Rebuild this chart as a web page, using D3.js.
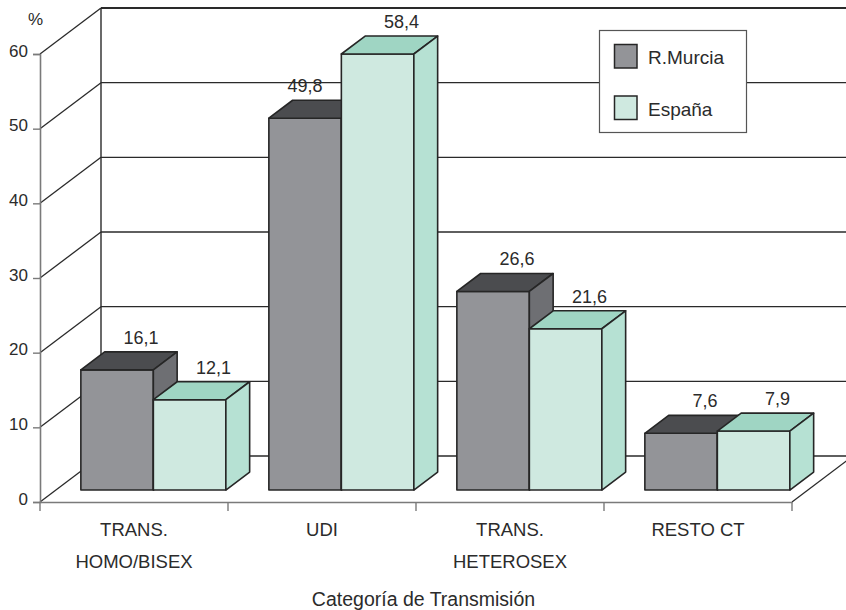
<!DOCTYPE html>
<html>
<head>
<meta charset="utf-8">
<script src="https://cdn.jsdelivr.net/npm/d3@7"></script>
<style>
  html, body { margin: 0; padding: 0; background: #fff; }
  svg { display: block; }
  text { font-family: "Liberation Sans", Arial, Helvetica, sans-serif; fill: #2b2b2b; }
</style>
</head>
<body>
<div id="chart"></div>
<script>
// ---- data ----
const categories = ["TRANS. HOMO/BISEX", "UDI", "TRANS. HETEROSEX", "RESTO CT"];
const categoryLines = [["TRANS.", "HOMO/BISEX"], ["UDI"], ["TRANS.", "HETEROSEX"], ["RESTO CT"]];
const seriesNames = ["R.Murcia", "España"];
const murcia = [16.1, 49.8, 26.6, 7.6];
const espana = [12.1, 58.4, 21.6, 7.9];
const yTicks = [0, 10, 20, 30, 40, 50, 60];
const yUnit = "%";
const xTitle = "Categoría de Transmisión";

// ---- layout ----
const W = 846, H = 610;
const DX = 61, DY = 46;          // full depth offset of the 3D box
const T0 = 0.26, T1 = 0.65;      // bar front / back depth fractions

const svg = d3.select("#chart").append("svg").attr("width", W).attr("height", H);

const x = d3.scaleBand().domain(categories).range([40, 792]).padding(0);
const xs = d3.scaleBand().domain(seriesNames).range([25, 170]).padding(0);
const y = d3.scaleLinear().domain([0, 60]).range([502, 54]);

const P = (px, v, t) => [px + DX * t, y(v) - DY * t];

const colors = {
  "R.Murcia": { front: "#939498", top: "#4b4c4f", side: "#6e6f73" },
  "España":   { front: "#cfe9e0", top: "#9fd5c3", side: "#b6e1d3" }
};

const xMin = x.range()[0], xMax = x.range()[1];

// back wall gridlines
const g = svg.append("g");
yTicks.forEach(v => {
  const a = P(xMin, v, 1), b = P(xMax, v, 1);
  g.append("line").attr("x1", a[0]).attr("y1", a[1]).attr("x2", b[0]).attr("y2", b[1])
    .attr("stroke", "#2a2a2a").attr("stroke-width", v === 60 ? 1.8 : 1.4);
});
// back wall left edge
{
  const a = P(xMin, 0, 1), b = P(xMin, 60, 1);
  g.append("line").attr("x1", a[0]).attr("y1", a[1]).attr("x2", b[0]).attr("y2", b[1])
    .attr("stroke", "#2a2a2a").attr("stroke-width", 1.4);
}
// left wall diagonals
yTicks.forEach(v => {
  const a = P(xMin, v, 0), b = P(xMin, v, 1);
  g.append("line").attr("x1", a[0]).attr("y1", a[1]).attr("x2", b[0]).attr("y2", b[1])
    .attr("stroke", "#2a2a2a").attr("stroke-width", 1.3);
});
// floor right diagonal
{
  const a = P(xMax, 0, 0), b = P(xMax, 0, 1);
  g.append("line").attr("x1", a[0]).attr("y1", a[1]).attr("x2", b[0]).attr("y2", b[1])
    .attr("stroke", "#2a2a2a").attr("stroke-width", 1.3);
}

// front value axis
const axisL = svg.append("g").attr("transform", `translate(${xMin},0)`)
  .call(d3.axisLeft(y).tickValues(yTicks).tickSize(7).tickPadding(5).tickFormat(d3.format("d")));
axisL.select(".domain").attr("stroke", "#7a7a7a").attr("stroke-width", 1.6);
axisL.selectAll(".tick line").attr("stroke", "#7a7a7a").attr("stroke-width", 1.4);
axisL.selectAll(".tick text").attr("font-size", 17).attr("fill", "#2b2b2b")
  .attr("font-family", "Liberation Sans, Arial, sans-serif").attr("dy", "0.12em");

svg.append("text").attr("x", 35.5).attr("y", 25).attr("text-anchor", "middle")
  .attr("font-size", 17).text(yUnit);

// front category axis (floor front edge)
const axisB = svg.append("g").attr("transform", `translate(0,${y(0)})`)
  .call(d3.axisBottom(x).tickSize(0).tickFormat(""));
axisB.select(".domain").attr("stroke", "#7a7a7a").attr("stroke-width", 1.6);
const bounds = categories.map(c => x(c)).concat([xMax]);
bounds.forEach(bx => {
  svg.append("line").attr("x1", bx).attr("x2", bx).attr("y1", y(0)).attr("y2", y(0) + 9)
    .attr("stroke", "#7a7a7a").attr("stroke-width", 1.4);
});

// category labels
categories.forEach((c, i) => {
  const t = svg.append("text").attr("x", x(c) + x.bandwidth() / 2).attr("y", 536)
    .attr("text-anchor", "middle").attr("font-size", 18.5);
  categoryLines[i].forEach((ln, j) => {
    t.append("tspan").attr("x", x(c) + x.bandwidth() / 2).attr("y", 536 + j * 32).text(ln);
  });
});

svg.append("text").attr("x", 423.5).attr("y", 606).attr("text-anchor", "middle")
  .attr("font-size", 19.5).text(xTitle);

// bars
const fmt = v => d3.format(".1f")(v).replace(".", ",");
const series = [murcia, espana];
const bars = svg.append("g");
const labels = svg.append("g");
categories.forEach((c, i) => {
  seriesNames.forEach((s, k) => {
    const v = series[k][i];
    const x0 = x(c) + xs(s), x1 = x0 + xs.bandwidth();
    const col = colors[s];
    const f0 = P(x0, 0, T0), f1 = P(x1, 0, T0), f2 = P(x1, v, T0), f3 = P(x0, v, T0);
    const b0 = P(x1, 0, T1), b1 = P(x1, v, T1), b2 = P(x0, v, T1);
    const poly = pts => pts.map(p => p.join(",")).join(" ");
    const gb = bars.append("g").attr("stroke", "#262626").attr("stroke-width", 1.6)
      .attr("stroke-linejoin", "round");
    gb.append("polygon").attr("points", poly([f0, f1, f2, f3])).attr("fill", col.front);
    gb.append("polygon").attr("points", poly([f3, f2, b1, b2])).attr("fill", col.top);
    gb.append("polygon").attr("points", poly([f1, b0, b1, f2])).attr("fill", col.side);
    // label over the back top edge; if the next (taller) bar would cover it, over the front face
    let lx = (b2[0] + b1[0]) / 2;
    const ly = b1[1] - 8;
    if (k + 1 < seriesNames.length) {
      const nv = series[k + 1][i];
      const nTop = P(x1, nv, T0)[1];
      if (nTop < ly && lx + 18 > x1 + DX * T0) lx = (f3[0] + f2[0]) / 2;
    }
    labels.append("text").attr("x", lx).attr("y", ly)
      .attr("text-anchor", "middle").attr("font-size", 18).text(fmt(v));
  });
});

// legend
const lg = svg.append("g");
lg.append("rect").attr("x", 599.5).attr("y", 30.5).attr("width", 147).attr("height", 102)
  .attr("fill", "#fff").attr("stroke", "#555").attr("stroke-width", 1.2);
seriesNames.forEach((s, k) => {
  const yy = 44.5 + k * 51.5;
  lg.append("rect").attr("x", 614.5).attr("y", yy).attr("width", 22.5).attr("height", 23.5)
    .attr("fill", colors[s].front).attr("stroke", "#262626").attr("stroke-width", 1.5);
  lg.append("text").attr("x", 648).attr("y", yy + 19.5).attr("font-size", 19).text(s);
});
</script>
</body>
</html>
